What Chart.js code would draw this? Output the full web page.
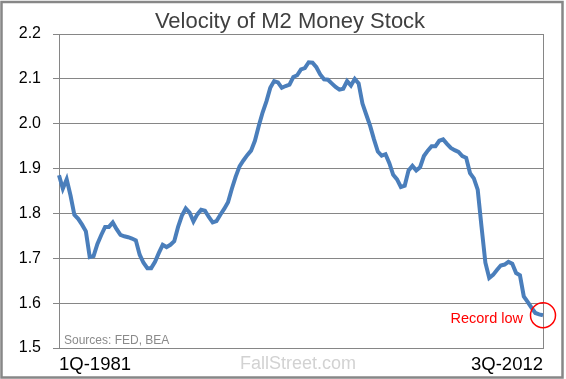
<!DOCTYPE html>
<html>
<head>
<meta charset="utf-8">
<script src="https://cdn.jsdelivr.net/npm/chart.js@4.4.0/dist/chart.umd.min.js"></script>
<style>
body { margin: 0; background: #fff; }
</style>
</head>
<body>
<canvas id="m2Chart" width="566" height="379"></canvas>
<script>
// quarterly velocity of M2, 1Q-1981 .. 3Q-2012
const velocity = [
  1.885, 1.855, 1.876, 1.840, 1.797, 1.788, 1.775, 1.760, 1.703, 1.705,
  1.732, 1.752, 1.770, 1.770, 1.780, 1.765, 1.752, 1.749, 1.747, 1.744,
  1.740, 1.708, 1.690, 1.678, 1.678, 1.692, 1.712, 1.730, 1.725, 1.730,
  1.738, 1.770, 1.795, 1.811, 1.802, 1.782, 1.798, 1.808, 1.806, 1.792,
  1.780, 1.783, 1.797, 1.810, 1.825, 1.855, 1.882, 1.905, 1.918, 1.930,
  1.940, 1.962, 1.995, 2.025, 2.050, 2.080, 2.095, 2.092, 2.080, 2.084,
  2.087, 2.104, 2.108, 2.121, 2.124, 2.137, 2.136, 2.126, 2.110, 2.099,
  2.098, 2.090, 2.082, 2.076, 2.078, 2.095, 2.085, 2.100, 2.090, 2.045,
  2.020, 1.995, 1.965, 1.938, 1.929, 1.932, 1.912, 1.886, 1.876, 1.859,
  1.862, 1.896, 1.906, 1.896, 1.903, 1.928, 1.940, 1.950, 1.950, 1.962,
  1.965, 1.955, 1.946, 1.941, 1.937, 1.928, 1.924, 1.890, 1.878, 1.853,
  1.770, 1.690, 1.656, 1.663, 1.674, 1.684, 1.686, 1.692, 1.688, 1.667,
  1.662, 1.615, 1.603, 1.590, 1.578, 1.575, 1.573
];

const firstYear = 1981;
const yMin = 1.5;
const yMax = 2.2;
const yStep = 0.1;

let quarters = [];
for (let i = 0; i < velocity.length; i++) {
  quarters.push((i % 4 + 1) + 'Q-' + (firstYear + Math.floor(i / 4)));
}
const last = velocity.length - 1;
const gridGray = '#868686';

// frame, title and the notes drawn on the canvas
const notesPlugin = {
  id: 'notes',
  beforeDraw(chart) {
    const ctx = chart.ctx;
    ctx.save();
    ctx.fillStyle = '#fff';
    ctx.fillRect(0, 0, chart.width, chart.height);
    ctx.restore();
  },
  afterDraw(chart) {
    const ctx = chart.ctx;
    ctx.save();
    ctx.strokeStyle = '#878787';
    ctx.lineWidth = 2.5;
    ctx.strokeRect(1.5, 2, 561, 375.5);

    ctx.textBaseline = 'alphabetic';
    ctx.textAlign = 'center';
    ctx.fillStyle = '#404040';
    ctx.font = '22px "Liberation Sans", Arial, sans-serif';
    ctx.fillText('Velocity of M2 Money Stock', 290, 28);

    ctx.fillStyle = '#d2d2d2';
    ctx.font = '18px "Liberation Sans", Arial, sans-serif';
    ctx.fillText('FallStreet.com', 298, 369);

    ctx.textAlign = 'left';
    ctx.fillStyle = '#8a8a8a';
    ctx.font = '12px "Liberation Sans", Arial, sans-serif';
    ctx.fillText('Sources: FED, BEA', 64, 344);

    ctx.textAlign = 'right';
    ctx.fillStyle = '#ff0000';
    ctx.font = '14.5px "Liberation Sans", Arial, sans-serif';
    ctx.fillText('Record low', 523, 323);
    ctx.restore();
  }
};

new Chart('m2Chart', {
  type: 'line',
  data: {
    labels: quarters,
    datasets: [{
      data: velocity,
      borderColor: '#4a7ebb',
      borderWidth: 4,
      tension: 0,
      clip: false,
      pointRadius: (c) => c.dataIndex === last ? 12.5 : 0,
      pointBorderColor: '#ff0000',
      pointBackgroundColor: 'rgba(0,0,0,0)',
      pointBorderWidth: 1.5
    }]
  },
  options: {
    responsive: false,
    animation: false,
    layout: { padding: { top: 34, right: 23, left: 0, bottom: 0 } },
    plugins: {
      legend: { display: false },
      tooltip: { enabled: false }
    },
    scales: {
      x: {
        grid: { display: false },
        border: { display: false },
        ticks: {
          autoSkip: false,
          maxRotation: 0,
          align: 'inner',
          padding: -2,
          color: '#000',
          font: { size: 18.5, family: '"Liberation Sans", Arial, sans-serif' },
          callback: function (v, i) {
            return (i === 0 || i === last) ? this.getLabelForValue(v) : '';
          }
        },
        afterFit: (scale) => { scale.height = 31; }
      },
      y: {
        min: yMin,
        max: yMax,
        grid: { color: gridGray, tickLength: 6 },
        border: { color: gridGray },
        ticks: {
          stepSize: yStep,
          padding: 12,
          color: '#000',
          font: { size: 16, family: '"Liberation Sans", Arial, sans-serif' },
          callback: (v) => v.toFixed(1)
        },
        afterFit: (scale) => { scale.width = 59; }
      },
      y2: {
        position: 'right',
        min: yMin,
        max: yMax,
        grid: { drawOnChartArea: false, drawTicks: false },
        border: { color: gridGray },
        ticks: { display: false },
        afterFit: (scale) => { scale.width = 0; }
      }
    }
  },
  plugins: [notesPlugin]
});
</script>
</body>
</html>
